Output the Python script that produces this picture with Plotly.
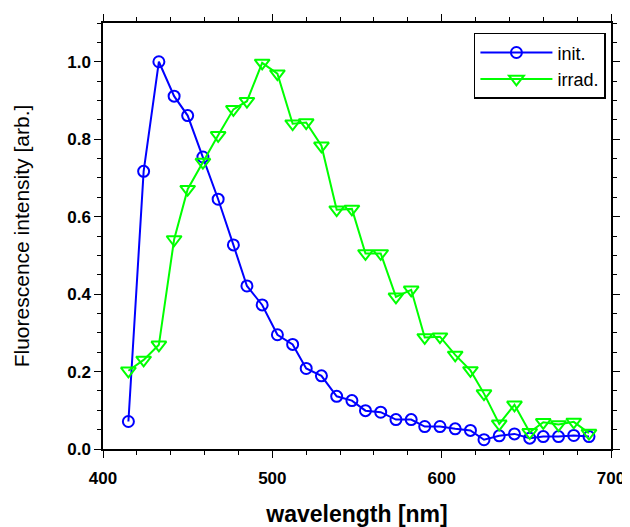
import plotly.graph_objects as go

wavelength = [415, 424, 433, 442, 450, 459, 468, 477, 485, 494, 503, 512, 520, 529, 538, 547,
              555, 564, 573, 582, 590, 599, 608, 617, 625, 634, 643, 652, 660, 669, 678, 687]
init_vals = [0.071, 0.717, 1.000, 0.911, 0.861, 0.754, 0.645, 0.527, 0.421, 0.372, 0.295, 0.270,
             0.208, 0.189, 0.136, 0.125, 0.099, 0.095, 0.076, 0.076, 0.058, 0.058, 0.052, 0.048,
             0.024, 0.034, 0.039, 0.028, 0.032, 0.032, 0.035, 0.032]
irrad_vals = [0.202, 0.230, 0.269, 0.541, 0.671, 0.741, 0.810, 0.877, 0.898, 0.997, 0.969, 0.840,
              0.843, 0.783, 0.618, 0.620, 0.505, 0.505, 0.393, 0.411, 0.288, 0.290, 0.243, 0.203,
              0.143, 0.065, 0.114, 0.043, 0.069, 0.063, 0.070, 0.041]
series_names = ["init.", "irrad."]
x_ticks = [400, 500, 600, 700]
y_ticks = [0.0, 0.2, 0.4, 0.6, 0.8, 1.0]

FONT = "Arial, Liberation Sans, sans-serif"

fig = go.Figure()
fig.add_trace(go.Scatter(
    x=wavelength, y=init_vals, name=series_names[0], mode="lines+markers",
    line=dict(color="#0000ff", width=2),
    marker=dict(symbol="circle-open", size=11, color="#0000ff", line=dict(width=2, color="#0000ff")),
))
fig.add_trace(go.Scatter(
    x=wavelength, y=irrad_vals, name=series_names[1], mode="lines+markers",
    line=dict(color="#00ff00", width=2),
    marker=dict(symbol="triangle-down-open", size=13, color="#00ff00", line=dict(width=2, color="#00ff00")),
))

axis_common = dict(
    showline=True, linecolor="black", linewidth=1.5, mirror="ticks",
    ticks="outside", ticklen=7, tickwidth=1.2, tickcolor="black",
    showgrid=False, zeroline=False, automargin=False,
    tickfont=dict(family=FONT, size=17, color="black", weight="bold"),
)

# page body has an 8px margin, so the figure is sized/offset to compensate
fig.update_layout(
    template="none",
    width=622, height=519,
    margin=dict(l=95, r=19, t=15, b=78, pad=0),
    paper_bgcolor="white", plot_bgcolor="white",
    showlegend=True,
    legend=dict(
        x=0.99, y=0.977, xanchor="right", yanchor="top",
        bordercolor="black", borderwidth=1.5, bgcolor="white",
        font=dict(family=FONT, size=18, color="black"),
        tracegroupgap=0, itemwidth=72,
    ),
    xaxis=dict(
        range=[400, 700], tickvals=x_ticks,
        minor=dict(dtick=20, ticks="outside", ticklen=4, tickwidth=1, tickcolor="black"),
        title=dict(text="wavelength [nm]", font=dict(family=FONT, size=23, color="black", weight="bold"), standoff=24),
        ticklabelstandoff=6,
        **axis_common,
    ),
    yaxis=dict(
        range=[0, 1.1], tickvals=y_ticks, tickformat=".1f",
        minor=dict(dtick=0.05, ticks="outside", ticklen=4, tickwidth=1, tickcolor="black"),
        title=dict(text="Fluorescence intensity [arb.]", font=dict(family=FONT, size=21, color="black"), standoff=32),
        **axis_common,
    ),
)

fig.write_html("out.html")
